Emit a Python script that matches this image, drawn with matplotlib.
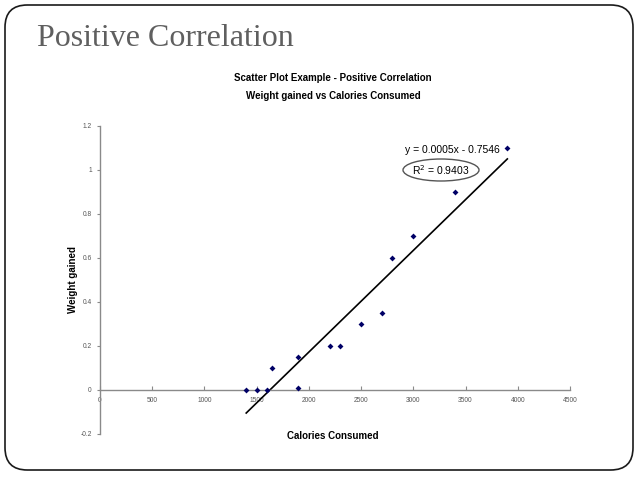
import numpy as np
import matplotlib
matplotlib.use("Agg")
from matplotlib import pyplot as plt
from matplotlib.patches import FancyBboxPatch, Ellipse

# data
calories = [1400, 1500, 1600, 1650, 1900, 1900, 2200, 2300, 2500, 2700, 2800, 3000, 3400, 3900]
weight = [0, 0, 0, 0.1, 0.15, 0.01, 0.2, 0.2, 0.3, 0.35, 0.6, 0.7, 0.9, 1.1]
x_ticks = [0, 500, 1000, 1500, 2000, 2500, 3000, 3500, 4000, 4500]
y_ticks = [-0.2, 0, 0.2, 0.4, 0.6, 0.8, 1, 1.2]
y_tick_labels = ['-0.2', '0', '0.2', '0.4', '0.6', '0.8', '1', '1.2']
fit_range = [1400, 3900]

W, H = 638, 479
fig = plt.figure(figsize=(W / 100, H / 100), dpi=100)
fig.patch.set_facecolor('white')

# slide frame
frame = FancyBboxPatch((5 / W, 1 - 470 / H), 628 / W, 465 / H,
                       boxstyle="round,pad=0,rounding_size=0.035",
                       transform=fig.transFigure, fill=False,
                       edgecolor='#1a1a1a', linewidth=1.2,
                       mutation_aspect=W / H)
fig.patches.append(frame)

fig.text(37 / W, 1 - 46 / H, 'Positive Correlation', family='Liberation Serif',
         fontsize=23, color='#5f5f5f', ha='left', va='baseline')

fig.text(333 / W, 1 - 78 / H, 'Scatter Plot Example - Positive Correlation',
         family='Liberation Sans', fontweight='bold', fontsize=7, ha='center', va='center')
fig.text(333 / W, 1 - 96 / H, 'Weight gained vs Calories Consumed',
         family='Liberation Sans', fontweight='bold', fontsize=7, ha='center', va='center')

ax = fig.add_axes([100 / W, 1 - 434 / H, 470 / W, 308 / H])
ax.set_xlim(0, 4500)
ax.set_ylim(-0.2, 1.2)

ax.scatter(calories, weight, marker='D', s=9, color='#000066', zorder=3, linewidths=0)

slope, intercept = np.polyfit(calories, weight, 1)
fx = np.array(fit_range)
ax.plot(fx, slope * fx + intercept, color='black', linewidth=1.2, zorder=2)

for side in ['top', 'right']:
    ax.spines[side].set_visible(False)
ax.spines['bottom'].set_position(('data', 0))
for side in ['left', 'bottom']:
    ax.spines[side].set_color('#8a8a8a')
    ax.spines[side].set_linewidth(1.0)

ax.set_xticks(x_ticks)
ax.set_xticklabels([str(t) for t in x_ticks])
ax.set_yticks(y_ticks)
ax.set_yticklabels(y_tick_labels)
ax.tick_params(axis='x', direction='in', length=3, color='#8a8a8a', labelsize=4.8,
               labelcolor='#555555', pad=5)
ax.tick_params(axis='y', direction='out', length=2, color='#8a8a8a', labelsize=4.8,
               labelcolor='#555555', pad=4)
for lab in ax.get_xticklabels() + ax.get_yticklabels():
    lab.set_family('Liberation Sans')

fig.text(73 / W, 1 - 280 / H, 'Weight gained', family='Liberation Sans', fontweight='bold',
         fontsize=7, rotation=90, ha='center', va='center')
fig.text(333 / W, 1 - 436 / H, 'Calories Consumed', family='Liberation Sans',
         fontweight='bold', fontsize=7, ha='center', va='center')

fig.text(452 / W, 1 - 150 / H, 'y = 0.0005x - 0.7546', family='Liberation Sans',
         fontsize=7.5, fontweight='medium', ha='center', va='center')
fig.text(441 / W, 1 - 170 / H, 'R$^2$ = 0.9403', family='Liberation Sans',
         fontsize=7.5, ha='center', va='center')
ell = Ellipse((441 / W, 1 - 170 / H), 76 / W, 22 / H, transform=fig.transFigure,
              fill=False, edgecolor='#555555', linewidth=1.0)
fig.patches.append(ell)

fig.savefig('out.png', dpi=100)
